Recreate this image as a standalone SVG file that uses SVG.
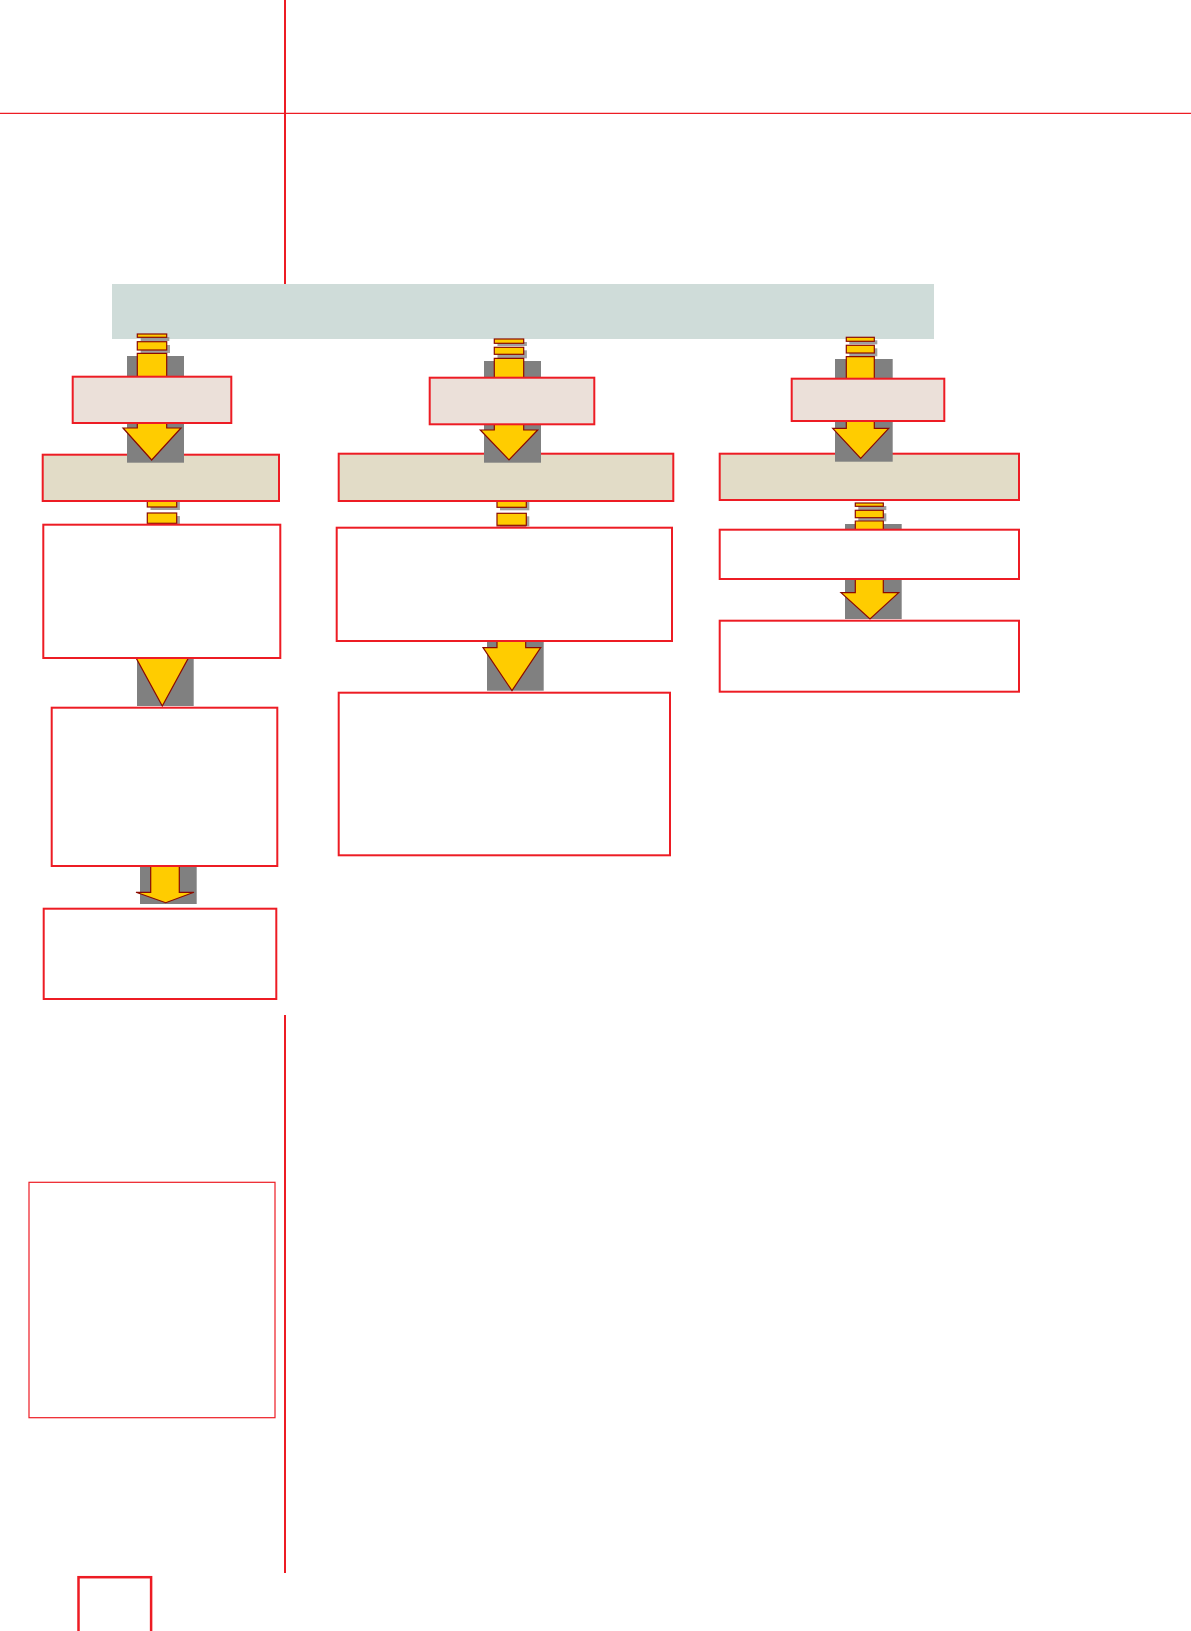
<svg xmlns="http://www.w3.org/2000/svg" width="1191" height="1631" viewBox="0 0 1191 1631">
<style>
.rule{stroke:#ED1C24;fill:none}
.box{stroke:#ED1C24;stroke-width:2}
.white{fill:#FFFFFF}
.pink{fill:#EBE0D9}
.beige{fill:#E2DCC7}
.band{fill:#CFDCD9}
.bg{fill:#808080}
.sh{fill:#8E8E8E;opacity:0.85}
.ar{fill:#FFCC00;stroke:#8B0A00;stroke-width:1.2;stroke-linejoin:miter}
</style>
<rect width="1191" height="1631" fill="#FFFFFF"/>
<g id="rules">
<line class="rule" x1="0" y1="113.3" x2="1191" y2="113.3" stroke-width="1.2"/>
<line class="rule" x1="285" y1="0" x2="285" y2="284" stroke-width="2"/>
<line class="rule" x1="285" y1="1015" x2="285" y2="1573" stroke-width="2"/>
</g>
<g id="top-band"><rect class="band" x="112" y="284" width="822" height="55"/></g>

<g id="connectors">
<!-- left arrow 2 -->
<g id="arrow-l2">
<rect class="bg" x="137" y="600" width="56.7" height="106"/>
<rect class="sh" x="150.5" y="502" width="29.4" height="8"/>
<rect class="ar" x="147.3" y="499" width="29.4" height="8"/>
<rect class="sh" x="150.5" y="516" width="29.4" height="10"/>
<rect class="ar" x="147.3" y="513" width="29.4" height="10.3"/>
<path class="ar" d="M148,527 H177 V655 H190 L162.3,706 L134.5,655 H148 Z"/>
</g>
<!-- left arrow 3 -->
<g id="arrow-l3">
<rect class="bg" x="140" y="860" width="56.7" height="44"/>
<path class="ar" d="M150.7,860 H179.3 V892.3 H194 L165.7,902.7 L136,892.3 H150.7 Z"/>
</g>
<!-- middle arrow 2 -->
<g id="arrow-m2">
<rect class="bg" x="487" y="600" width="56.7" height="90.7"/>
<rect class="sh" x="500" y="502" width="29.3" height="8.3"/>
<rect class="ar" x="497" y="499" width="29.3" height="8.3"/>
<rect class="sh" x="500" y="516.3" width="29.3" height="10"/>
<rect class="ar" x="497" y="513.3" width="29.3" height="12"/>
<path class="ar" d="M497,527 H525.7 V647.7 H540.7 L512,690.7 L483,647.7 H497 Z"/>
</g>
<!-- right arrow 2 -->
<g id="arrow-r2">
<rect class="bg" x="845" y="524" width="56.7" height="95"/>
<rect class="sh" x="858.3" y="506" width="28" height="4"/>
<rect class="ar" x="855.3" y="503" width="28" height="3.3"/>
<rect class="sh" x="858.3" y="513.3" width="28" height="8"/>
<rect class="ar" x="855.3" y="510.3" width="28" height="7.4"/>
<path class="ar" d="M855.3,521 H883.3 V592.7 H898.7 L870,619 L841,592.7 H855.3 Z"/>
</g>
</g>

<g id="node-l-w1"><rect class="box white" x="43.3" y="524.7" width="237" height="133.3"/></g>
<g id="node-l-w2"><rect class="box white" x="51.7" y="707.7" width="225.6" height="158.3"/></g>
<g id="node-l-w3"><rect class="box white" x="43.7" y="908.7" width="232.6" height="90.3"/></g>
<g id="node-m-w1"><rect class="box white" x="336.7" y="527.7" width="335.3" height="113.3"/></g>
<g id="node-m-w2"><rect class="box white" x="338.7" y="692.7" width="331.3" height="162.6"/></g>
<g id="node-r-w1"><rect class="box white" x="719.7" y="529.7" width="299.3" height="49.3"/></g>
<g id="node-r-w2"><rect class="box white" x="719.7" y="620.7" width="299.3" height="71"/></g>

<g id="node-l-beige"><rect class="box beige" x="42.7" y="454.7" width="236.3" height="46.3"/></g>
<g id="node-m-beige"><rect class="box beige" x="338.7" y="453.7" width="334.6" height="47.3"/></g>
<g id="node-r-beige"><rect class="box beige" x="719.7" y="453.7" width="299.3" height="46.3"/></g>

<g id="connectors-top">
<g id="arrow-l1">
<rect class="bg" x="127" y="356" width="57" height="106.7"/>
<rect class="sh" x="140.7" y="337" width="28.6" height="4"/>
<rect class="ar" x="137.3" y="334" width="29.4" height="3.3"/>
<rect class="sh" x="140.7" y="345" width="29.3" height="8"/>
<rect class="ar" x="137.3" y="341.7" width="29.4" height="8.3"/>
<path class="ar" d="M137.3,353.3 H166.7 V428 H181 L151.7,460 L123,428 H137.3 Z"/>
</g>
<g id="arrow-m1">
<rect class="bg" x="484" y="361" width="57" height="101.7"/>
<rect class="sh" x="497.5" y="342" width="29.4" height="4"/>
<rect class="ar" x="494.3" y="339" width="29.4" height="4.3"/>
<rect class="sh" x="497.5" y="350.3" width="29.4" height="8"/>
<rect class="ar" x="494.3" y="347.3" width="29.4" height="7"/>
<path class="ar" d="M494.3,358.3 H523.7 V430 H537.7 L509,460 L480.3,430 H494.3 Z"/>
</g>
<g id="arrow-r1">
<rect class="bg" x="835" y="359" width="57.7" height="102.7"/>
<rect class="sh" x="849.3" y="340.3" width="28" height="4"/>
<rect class="ar" x="846.3" y="337.3" width="28" height="4"/>
<rect class="sh" x="849.3" y="348.3" width="28" height="8"/>
<rect class="ar" x="846.3" y="345.3" width="28" height="7.7"/>
<path class="ar" d="M846.3,356.7 H874.3 V428.3 H888.7 L860.7,458.3 L832.7,428.3 H846.3 Z"/>
</g>
</g>

<g id="node-l-pink"><rect class="box pink" x="72.7" y="376.7" width="158.6" height="46.3"/></g>
<g id="node-m-pink"><rect class="box pink" x="429.7" y="377.7" width="164.6" height="46.6"/></g>
<g id="node-r-pink"><rect class="box pink" x="791.7" y="378.7" width="152.6" height="42.3"/></g>

<g id="node-side"><rect class="white" x="29" y="1182.3" width="246" height="235.4" stroke="#ED1C24" stroke-width="1.2"/></g>
<g id="node-page"><rect class="white" x="78.5" y="1577.2" width="72.6" height="60" stroke="#ED1C24" stroke-width="2.5"/></g>
</svg>
